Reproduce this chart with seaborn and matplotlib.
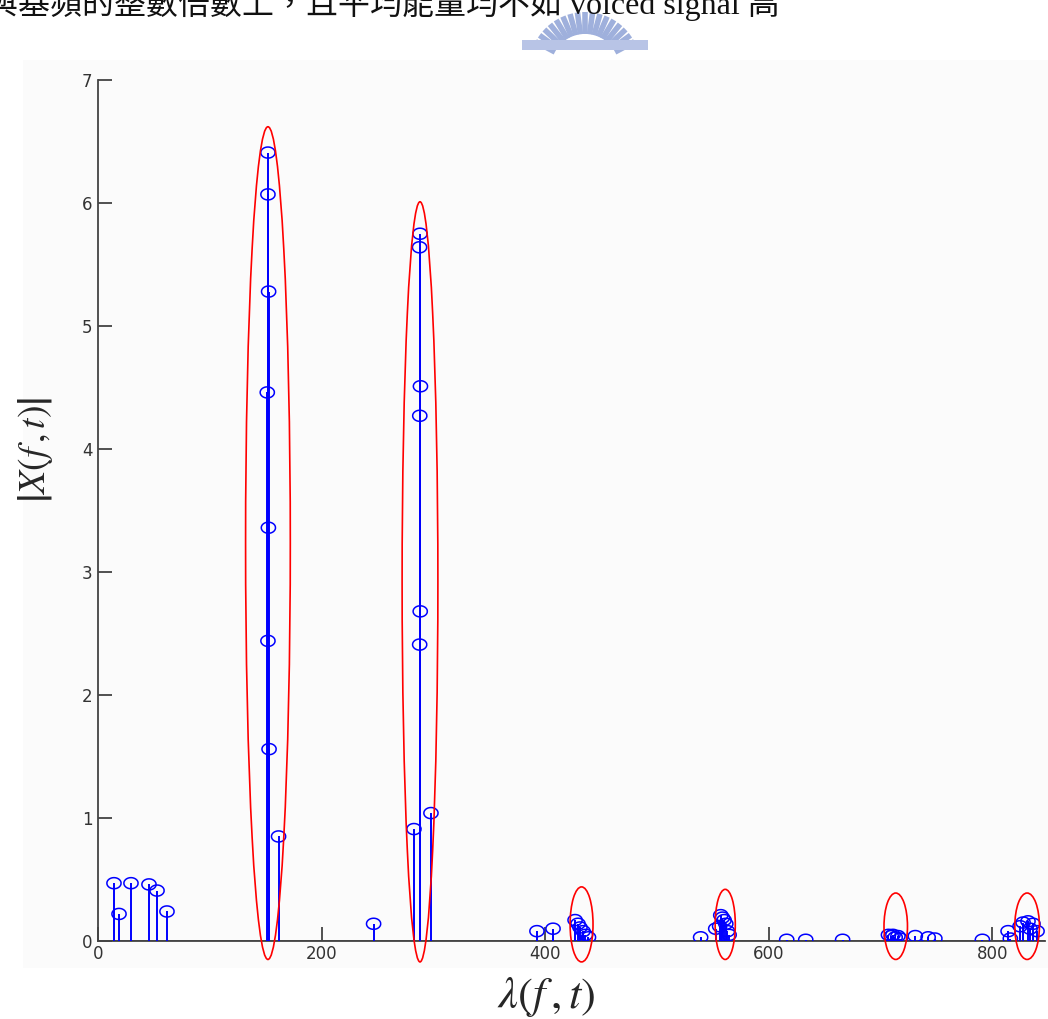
import numpy as np
import matplotlib
matplotlib.use("Agg")
import matplotlib.pyplot as plt
from matplotlib.patches import Ellipse, Rectangle
from matplotlib.path import Path
import seaborn as sns
import pandas as pd

# ---------------- data ----------------
low_x = [14.3, 18.8, 29.5, 45.6, 52.8, 61.7]
low_y = [0.47, 0.22, 0.47, 0.46, 0.41, 0.24]

peak1_x = [152.0, 152.0, 152.6, 151.4, 152.4, 152.0, 153.0, 161.5]
peak1_y = [6.41, 6.07, 5.28, 4.46, 3.36, 2.44, 1.56, 0.85]

mid_x = [246.5]
mid_y = [0.14]

peak2_x = [288.0, 287.6, 288.4, 287.8, 288.2, 287.7, 282.6, 297.8]
peak2_y = [5.75, 5.64, 4.51, 4.27, 2.68, 2.41, 0.91, 1.04]

c3_x = [392.6, 407.0, 426.7, 429.3, 431.1, 433.8, 436.0, 438.7]
c3_y = [0.08, 0.10, 0.17, 0.14, 0.11, 0.08, 0.05, 0.03]

c4_x = [539.0, 552.5, 557.0, 558.5, 560.0, 561.5, 556.0, 563.0, 564.5]
c4_y = [0.03, 0.10, 0.21, 0.19, 0.17, 0.14, 0.12, 0.08, 0.05]

c5_x = [616.0, 633.0, 666.0, 707.0, 709.5, 711.0, 713.0, 715.5, 717.5, 731.0, 742.5, 748.5]
c5_y = [0.01, 0.01, 0.01, 0.05, 0.04, 0.05, 0.03, 0.04, 0.02, 0.04, 0.03, 0.02]

c6_x = [791.0, 814.0, 816.0, 824.7, 827.4, 831.8, 833.6, 836.3, 839.9]
c6_y = [0.01, 0.08, 0.02, 0.12, 0.15, 0.16, 0.10, 0.14, 0.08]

ell_cx = [152.0, 288.0, 432.5, 561.0, 713.5, 831.0]
ell_cy = [3.235, 2.92, 0.135, 0.135, 0.12, 0.12]
ell_w = [40.0, 32.0, 20.5, 18.0, 21.0, 22.0]
ell_h = [6.77, 6.18, 0.61, 0.57, 0.54, 0.54]

x_ticks = [0, 200, 400, 600, 800]
y_ticks = [0, 1, 2, 3, 4, 5, 6, 7]

header_text = "與基頻的整數倍數上，且平均能量均不如 voiced signal 高"

# ---------------- build ----------------
freq = low_x + peak1_x + mid_x + peak2_x + c3_x + c4_x + c5_x + c6_x
mag = low_y + peak1_y + mid_y + peak2_y + c3_y + c4_y + c5_y + c6_y
df = pd.DataFrame({"freq": freq, "mag": mag})

sns.set_style("ticks")
plt.rcParams["mathtext.fontset"] = "stix"

W, H = 1048, 1019
fig = plt.figure(figsize=(W / 100, H / 100), dpi=100)

# light background panel
fig.patches.append(Rectangle((23 / W, 1 - 968 / H), 1 - 23 / W, (968 - 60) / H,
                             transform=fig.transFigure, facecolor="#fbfbfb",
                             edgecolor="none", zorder=-5))

ax = fig.add_axes([98 / W, 1 - 941 / H, (1045 - 98) / W, (941 - 80) / H])
ax.set_facecolor("none")
ax.set_zorder(2)

# stems
ax.vlines(df["freq"], 0, df["mag"], color="#0000ff", lw=1.4, zorder=3)

# open elliptical markers
t = np.linspace(0, 2 * np.pi, 40)
ell_marker = Path(np.column_stack([np.cos(t), 0.78 * np.sin(t)]))
sns.scatterplot(data=df, x="freq", y="mag", ax=ax, marker=ell_marker, s=105,
                facecolors="none", edgecolor="#0000ff", linewidth=1.1, zorder=4,
                legend=False)

# red ellipses
for cx, cy, w, h in zip(ell_cx, ell_cy, ell_w, ell_h):
    ax.add_patch(Ellipse((cx, cy), w, h, facecolor="none", edgecolor="#ff0000",
                         lw=1.2, zorder=5, clip_on=False))

ax.set_xlim(0, 847)
ax.set_ylim(0, 7)
ax.set_xticks(x_ticks)
ax.set_yticks(y_ticks)
ax.tick_params(direction="in", length=10, width=1.2, colors="#333333",
               labelsize=12, labelcolor="#333333", pad=4,
               bottom=True, left=True, top=False, right=False)
ax.tick_params(axis="x", pad=3)
for s in ["top", "right"]:
    ax.spines[s].set_visible(False)
for s in ["left", "bottom"]:
    ax.spines[s].set_color("#444444")
    ax.spines[s].set_linewidth(1.3)
ax.axhline(0, color="#444444", lw=1.3, zorder=2)

ax.set_xlabel(r"$\lambda(f\,,t)$", fontsize=32)
ax.set_ylabel(r"$\left|X(f\,,t)\right|$", fontsize=27)
ax.xaxis.set_label_coords(0.473, -0.040)
ax.yaxis.set_label_coords(-0.045, 0.57)

# cropped header text
fig.text(-14 / W, 1 - 21 / H, header_text, fontsize=23, va="bottom", ha="left",
         family=["Liberation Serif", "Noto Sans CJK TC"], color="#111111")

# watermark logo (approximate)
cxp, cyp = 585, 68
for ang in np.linspace(28, 152, 17):
    a = np.deg2rad(ang)
    r0, r1 = 34, 56
    x0, y0 = cxp + r0 * np.cos(a), cyp - r0 * np.sin(a)
    x1, y1 = cxp + r1 * np.cos(a), cyp - r1 * np.sin(a)
    fig.add_artist(plt.Line2D([x0 / W, x1 / W], [1 - y0 / H, 1 - y1 / H],
                              transform=fig.transFigure, color="#9fb0dc",
                              lw=4, solid_capstyle="butt", zorder=1))
fig.patches.append(Rectangle((522 / W, 1 - 50 / H), 126 / W, 10 / H,
                             transform=fig.transFigure, facecolor="#b8c4e6",
                             edgecolor="none", zorder=1))

fig.savefig("out.png", dpi=100)
